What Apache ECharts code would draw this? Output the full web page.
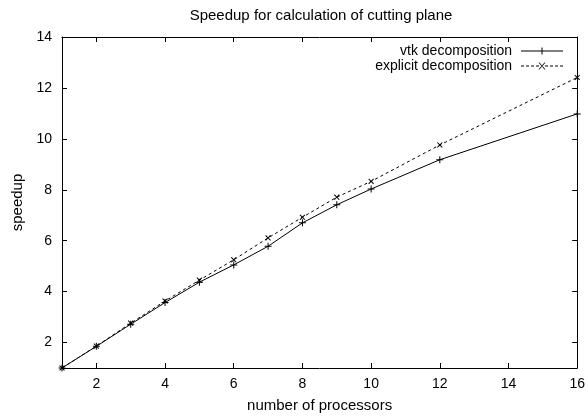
<!DOCTYPE html>
<html>
<head>
<meta charset="utf-8">
<script src="https://cdn.jsdelivr.net/npm/echarts@6/dist/echarts.min.js"></script>
<style>
  html, body { margin: 0; padding: 0; background: #fff; }
</style>
</head>
<body>
<div id="chart" style="width: 588px; height: 418px;"></div>
<script>
// number of processors
var procs = [1, 2, 3, 4, 5, 6, 7, 8, 9, 10, 12, 16];
// speedup values
var vtkSpeedup = [1, 1.85, 2.72, 3.57, 4.37, 5.05, 5.78, 6.7, 7.41, 8.03, 9.18, 10.98];
var explicitSpeedup = [1, 1.86, 2.76, 3.63, 4.45, 5.25, 6.11, 6.92, 7.71, 8.33, 9.76, 12.41];
var xTicks = [2, 4, 6, 8, 10, 12, 14, 16];
var yTicks = [2, 4, 6, 8, 10, 12, 14];

var font = "Liberation Sans";
var plusPath = "path://M3,0h1v3h3v1h-3v3h-1v-3h-3v-1h3z";
// legend samples drawn as filled shapes (line + marker), 42x7 box
var vtkIcon = "path://M0,3h42v1h-42z M20.5,0h1v7h-1z";
var explicitIcon = "path://M0,3h3v1h-3z M5,3h3v1h-3z M10,3h3v1h-3z M15,3h3v1h-3z" +
  " M24,3h3v1h-3z M29,3h3v1h-3z M34,3h3v1h-3z M39,3h3v1h-3z" +
  " M17.5,0L18.5,0L24.5,7L23.5,7Z M23.5,0L24.5,0L18.5,7L17.5,7Z";

function pairs(xs, ys) {
  return xs.map(function (x, i) { return [x, ys[i]]; });
}

var myChart = echarts.init(document.getElementById("chart"));
var axisBase = {
  type: "value",
  axisLine: { show: true, onZero: false, lineStyle: { color: "#000", width: 1 } },
  axisTick: { show: true, inside: true, length: 5, lineStyle: { color: "#000" } },
  splitLine: { show: false },
};
var txt = { fontFamily: font, fontSize: 14, color: "#000" };
var bigTxt = { fontFamily: font, fontSize: 15, color: "#000" };
var option = {
  animation: false,
  backgroundColor: "#fff",
  title: {
    text: "Speedup for calculation of cutting plane",
    left: 321,
    textAlign: "center",
    top: 8,
    padding: 0,
    textStyle: Object.assign({ fontWeight: "normal" }, bigTxt),
  },
  legend: {
    orient: "vertical",
    right: 25,
    top: 44,
    padding: 0,
    align: "right",
    itemWidth: 42,
    itemHeight: 7,
    itemGap: 1,
    formatter: function (name) { return name + " "; },
    textStyle: txt,
    data: [
      { name: "vtk decomposition", icon: vtkIcon },
      { name: "explicit decomposition", icon: explicitIcon },
    ],
  },
  grid: { left: 62, right: 8, top: 37, bottom: 49 },
  xAxis: [
    Object.assign({}, axisBase, {
      min: 1, max: 16,
      name: "number of processors",
      nameLocation: "middle",
      nameGap: 30,
      nameTextStyle: bigTxt,
      axisTick: Object.assign({}, axisBase.axisTick, { customValues: xTicks }),
      axisLabel: Object.assign({ customValues: xTicks, margin: 9 }, txt),
    }),
    Object.assign({}, axisBase, {
      min: 1, max: 16, position: "top",
      axisTick: Object.assign({}, axisBase.axisTick, { customValues: xTicks }),
      axisLabel: { show: false },
    }),
  ],
  yAxis: [
    Object.assign({}, axisBase, {
      min: 1, max: 14,
      name: "speedup",
      nameLocation: "middle",
      nameGap: 31,
      nameTextStyle: bigTxt,
      axisTick: Object.assign({}, axisBase.axisTick, { customValues: yTicks }),
      axisLabel: Object.assign({ customValues: yTicks, margin: 10 }, txt),
    }),
    Object.assign({}, axisBase, {
      min: 1, max: 14, position: "right",
      axisTick: Object.assign({}, axisBase.axisTick, { customValues: yTicks }),
      axisLabel: { show: false },
    }),
  ],
  series: [
    {
      name: "vtk decomposition",
      type: "line",
      data: pairs(procs, vtkSpeedup),
      symbol: plusPath,
      symbolSize: 7,
      showAllSymbol: true,
      itemStyle: { color: "#000" },
      lineStyle: { color: "#000", width: 1 },
    },
    {
      name: "explicit decomposition",
      type: "line",
      data: pairs(procs, explicitSpeedup),
      symbol: plusPath,
      symbolSize: 7,
      symbolRotate: 45,
      showAllSymbol: true,
      itemStyle: { color: "#000" },
      lineStyle: { color: "#000", width: 1, type: [3, 3] },
    },
  ],
};
myChart.setOption(option);
</script>
</body>
</html>
